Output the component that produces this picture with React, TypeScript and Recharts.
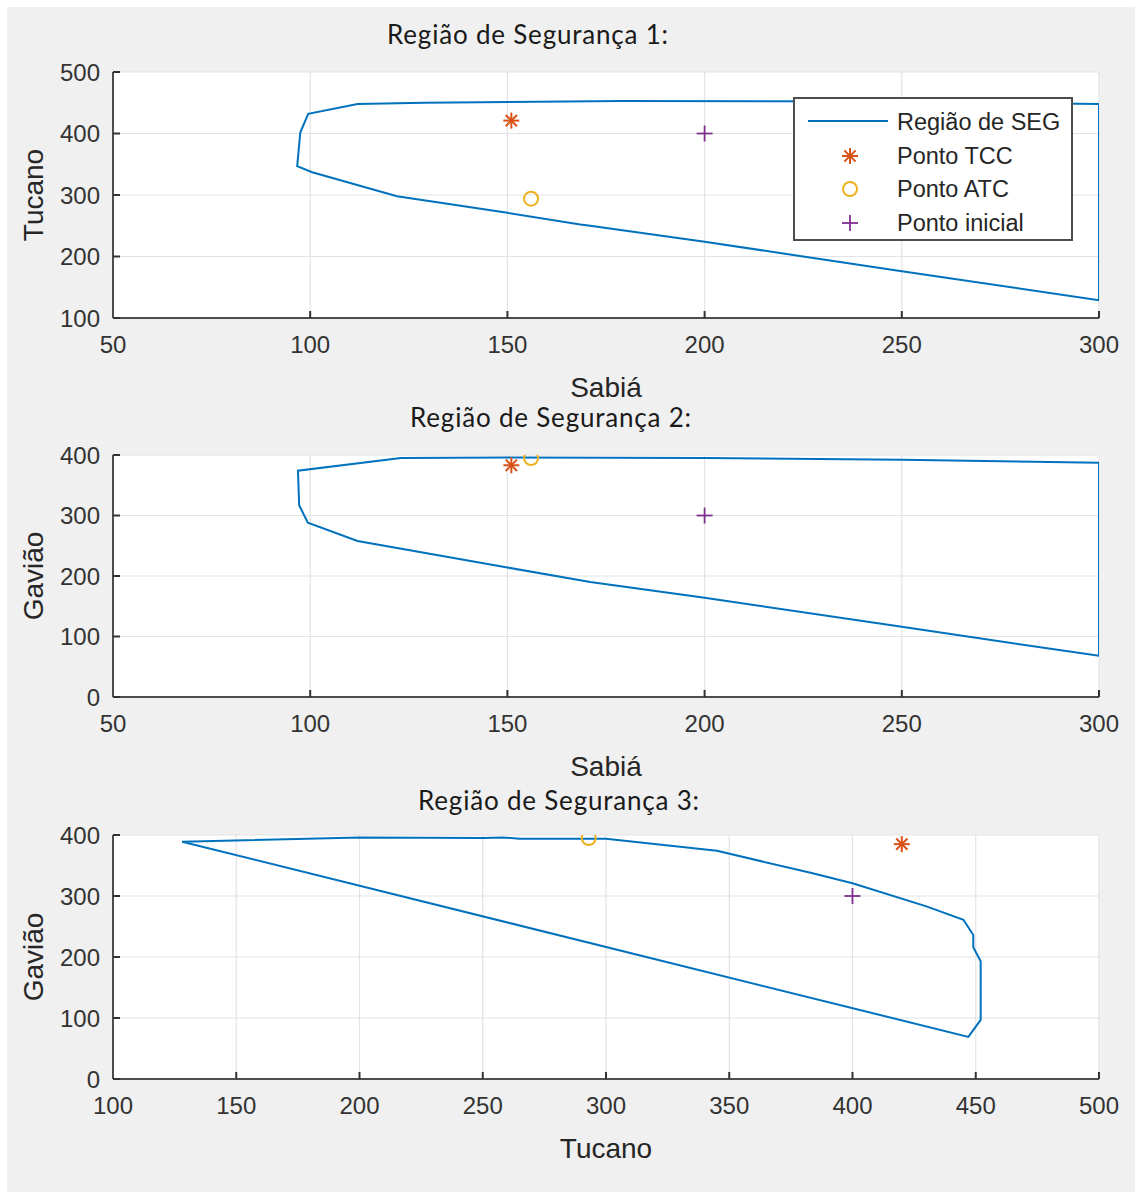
import React from 'react';
import { ScatterChart, Scatter, XAxis, YAxis, CartesianGrid, Legend } from 'recharts';

// eixos
const sabiaTicks = [50, 100, 150, 200, 250, 300];
const tucanoXTicks = [100, 150, 200, 250, 300, 350, 400, 450, 500];
const tucanoYTicks = [100, 200, 300, 400, 500];
const gaviaoTicks = [0, 100, 200, 300, 400];

// Região de Segurança 1 (Sabiá x Tucano)
const regiao1 = [
  { x: 300, y: 448 }, { x: 250, y: 452 }, { x: 179, y: 453 }, { x: 129, y: 450 },
  { x: 112, y: 448 }, { x: 99.5, y: 432 }, { x: 97.5, y: 402 }, { x: 96.7, y: 347 },
  { x: 100.5, y: 337 }, { x: 122, y: 298 }, { x: 150, y: 271 }, { x: 168.5, y: 252 },
  { x: 171, y: 250 }, { x: 200, y: 224 }, { x: 250, y: 176 }, { x: 300, y: 129 },
  { x: 300, y: 448 },
];
const tcc1 = [{ x: 151, y: 421 }];
const atc1 = [{ x: 156, y: 294 }];
const ini1 = [{ x: 200, y: 400 }];

// Região de Segurança 2 (Sabiá x Gavião)
const regiao2 = [
  { x: 300, y: 387 }, { x: 250, y: 392 }, { x: 200, y: 395 }, { x: 150, y: 396 },
  { x: 123, y: 395 }, { x: 96.9, y: 374 }, { x: 97.2, y: 317 }, { x: 99.4, y: 288 },
  { x: 112, y: 258 }, { x: 150, y: 214 }, { x: 171, y: 190 }, { x: 200, y: 164 },
  { x: 250, y: 116 }, { x: 300, y: 68 }, { x: 300, y: 387 },
];
const tcc2 = [{ x: 151, y: 383 }];
const atc2 = [{ x: 156, y: 395 }];
const ini2 = [{ x: 200, y: 300 }];

// Região de Segurança 3 (Tucano x Gavião)
const regiao3 = [
  { x: 128, y: 389 }, { x: 200, y: 396 }, { x: 250, y: 395 }, { x: 258, y: 396 },
  { x: 265, y: 394 }, { x: 300, y: 394 }, { x: 345, y: 374 }, { x: 383, y: 338 },
  { x: 400, y: 321 }, { x: 430, y: 283 }, { x: 445, y: 261 }, { x: 449, y: 236 },
  { x: 449, y: 216 }, { x: 452, y: 193 }, { x: 452, y: 97 }, { x: 447, y: 69 },
  { x: 128, y: 389 },
];
const tcc3 = [{ x: 420, y: 385 }];
const atc3 = [{ x: 293, y: 395 }];
const ini3 = [{ x: 400, y: 300 }];

const BLUE = '#0072BD';
const RED = '#D95319';
const YELLOW = '#EDB120';
const PURPLE = '#7E2F8E';
const AXIS = '#4d4d4d';
const TEXT = '#333333';
const SANS = '"Liberation Sans", Arial, Helvetica, sans-serif';

const Nothing = () => <g />;

const Star = ({ cx, cy }: any) => {
  const r = 8;
  const d = r * 0.707;
  return (
    <g stroke={RED} strokeWidth={2}>
      <line x1={cx - r} y1={cy} x2={cx + r} y2={cy} />
      <line x1={cx} y1={cy - r} x2={cx} y2={cy + r} />
      <line x1={cx - d} y1={cy - d} x2={cx + d} y2={cy + d} />
      <line x1={cx - d} y1={cy + d} x2={cx + d} y2={cy - d} />
    </g>
  );
};

const Ring = ({ cx, cy }: any) => (
  <circle cx={cx} cy={cy} r={7} fill="none" stroke={YELLOW} strokeWidth={2} />
);

const Plus = ({ cx, cy }: any) => (
  <g stroke={PURPLE} strokeWidth={1.8}>
    <line x1={cx - 8} y1={cy} x2={cx + 8} y2={cy} />
    <line x1={cx} y1={cy - 8} x2={cx} y2={cy + 8} />
  </g>
);

const legendItems = [
  { name: 'Região de SEG', kind: 'line' },
  { name: 'Ponto TCC', kind: 'star' },
  { name: 'Ponto ATC', kind: 'ring' },
  { name: 'Ponto inicial', kind: 'plus' },
];

const LegendBox = () => (
  <div
    style={{
      position: 'relative',
      width: 280,
      height: 144,
      boxSizing: 'border-box',
      border: `2px solid ${AXIS}`,
      background: '#fff',
      fontFamily: SANS,
      fontSize: 23.5,
      color: '#262626',
    }}
  >
    {legendItems.map((it, i) => (
      <div key={it.name} style={{ position: 'absolute', left: 0, top: 6 + i * 33.5, height: 34, width: 276 }}>
        <svg width={100} height={34} style={{ position: 'absolute', left: 0, top: 0 }}>
          {it.kind === 'line' && <line x1={13} y1={16} x2={93} y2={16} stroke={BLUE} strokeWidth={2} />}
          {it.kind === 'star' && <Star cx={55} cy={17} />}
          {it.kind === 'ring' && <Ring cx={55} cy={17} />}
          {it.kind === 'plus' && <Plus cx={55} cy={17} />}
        </svg>
        <span style={{ position: 'absolute', left: 102, top: 3, lineHeight: '28px', whiteSpace: 'nowrap' }}>{it.name}</span>
      </div>
    ))}
  </div>
);

const XTitle = ({ viewBox, value }: any) => (
  <text
    x={viewBox.x + viewBox.width / 2}
    y={viewBox.y + 79}
    textAnchor="middle"
    fontFamily={SANS}
    fontSize={28}
    fill="#262626"
  >
    {value}
  </text>
);

const YTitle = ({ viewBox, value }: any) => {
  const cx = 43;
  const cy = viewBox.y + viewBox.height / 2;
  return (
    <text
      x={cx}
      y={cy}
      transform={`rotate(-90, ${cx}, ${cy})`}
      textAnchor="middle"
      fontFamily={SANS}
      fontSize={28}
      fill="#262626"
    >
      {value}
    </text>
  );
};

interface PanelProps {
  top: number;
  height: number;
  marginTop: number;
  marginBottom: number;
  xLabel: string;
  yLabel: string;
  xTicks: number[];
  yTicks: number[];
  region: { x: number; y: number }[];
  tcc: { x: number; y: number }[];
  atc: { x: number; y: number }[];
  ini: { x: number; y: number }[];
  showLegend?: boolean;
}

const Panel = (p: PanelProps) => {
  const xDomain = [p.xTicks[0], p.xTicks[p.xTicks.length - 1]];
  const yDomain = [p.yTicks[0], p.yTicks[p.yTicks.length - 1]];
  const tickStyle = { fill: TEXT, fontSize: 24, fontFamily: SANS };
  return (
    <div style={{ position: 'absolute', left: 0, top: p.top }}>
      <ScatterChart
        width={1135}
        height={p.height}
        margin={{ top: p.marginTop, right: 36, bottom: p.marginBottom, left: 53 }}
      >
        <CartesianGrid stroke="#e3e3e3" strokeWidth={1.2} fill="#ffffff" />
        <XAxis
          type="number"
          dataKey="x"
          domain={xDomain}
          ticks={p.xTicks}
          interval={0}
          height={40}
          allowDataOverflow
          axisLine={{ stroke: AXIS, strokeWidth: 2 }}
          tickLine={{ stroke: '#333', strokeWidth: 2 }}
          tickSize={-7}
          tickMargin={25}
          tick={tickStyle}
          label={<XTitle value={p.xLabel} />}
        />
        <XAxis
          xAxisId="top"
          orientation="top"
          type="number"
          dataKey="x"
          domain={xDomain}
          ticks={p.xTicks}
          interval={0}
          height={0}
          allowDataOverflow
          axisLine={{ stroke: AXIS, strokeWidth: 2 }}
          tickLine={{ stroke: '#333', strokeWidth: 2 }}
          tickSize={-7}
          tick={false}
        />
        <YAxis
          type="number"
          dataKey="y"
          domain={yDomain}
          ticks={p.yTicks}
          interval={0}
          width={60}
          allowDataOverflow
          axisLine={{ stroke: AXIS, strokeWidth: 2 }}
          tickLine={{ stroke: '#333', strokeWidth: 2 }}
          tickSize={-7}
          tickMargin={20}
          tick={tickStyle}
          label={<YTitle value={p.yLabel} />}
        />
        <YAxis
          yAxisId="right"
          orientation="right"
          type="number"
          dataKey="y"
          domain={yDomain}
          ticks={p.yTicks}
          interval={0}
          width={0}
          allowDataOverflow
          axisLine={{ stroke: AXIS, strokeWidth: 2 }}
          tickLine={{ stroke: '#333', strokeWidth: 2 }}
          tickSize={-7}
          tick={false}
        />
        <Scatter
          name="Região de SEG"
          data={p.region}
          line={{ stroke: BLUE, strokeWidth: 2 }}
          lineJointType="linear"
          shape={<Nothing />}
          isAnimationActive={false}
        />
        <Scatter name="Ponto TCC" data={p.tcc} shape={<Star />} isAnimationActive={false} />
        <Scatter name="Ponto ATC" data={p.atc} shape={<Ring />} isAnimationActive={false} />
        <Scatter name="Ponto inicial" data={p.ini} shape={<Plus />} isAnimationActive={false} />
        {p.showLegend && (
          <Legend
            layout="horizontal"
            verticalAlign="middle"
            align="center"
            content={<LegendBox />}
            wrapperStyle={{ left: 793, top: 97, width: 280, height: 144 }}
          />
        )}
      </ScatterChart>
    </div>
  );
};

const titles = [
  { text: 'Região de Segurança 1:', cx: 528, top: 19 },
  { text: 'Região de Segurança 2:', cx: 551, top: 402 },
  { text: 'Região de Segurança 3:', cx: 559, top: 785 },
];

export default function App() {
  return (
    <div style={{ position: 'absolute', left: 0, top: 0, width: 1135, height: 1192, background: '#ffffff' }}>
      <div style={{ position: 'absolute', left: 7, top: 7, right: 0, bottom: 0, background: '#f0f0f0' }} />
      <Panel
        top={0}
        height={410}
        marginTop={72}
        marginBottom={52}
        xLabel="Sabiá"
        yLabel="Tucano"
        xTicks={sabiaTicks}
        yTicks={tucanoYTicks}
        region={regiao1}
        tcc={tcc1}
        atc={atc1}
        ini={ini1}
        showLegend
      />
      <Panel
        top={410}
        height={380}
        marginTop={45}
        marginBottom={53}
        xLabel="Sabiá"
        yLabel="Gavião"
        xTicks={sabiaTicks}
        yTicks={gaviaoTicks}
        region={regiao2}
        tcc={tcc2}
        atc={atc2}
        ini={ini2}
      />
      <Panel
        top={790}
        height={402}
        marginTop={45}
        marginBottom={73}
        xLabel="Tucano"
        yLabel="Gavião"
        xTicks={tucanoXTicks}
        yTicks={gaviaoTicks}
        region={regiao3}
        tcc={tcc3}
        atc={atc3}
        ini={ini3}
      />
      {titles.map((t) => (
        <div
          key={t.text}
          style={{
            position: 'absolute',
            left: t.cx - 200,
            top: t.top,
            width: 400,
            textAlign: 'center',
            fontFamily: 'Lato, "Open Sans", sans-serif',
            fontSize: 26,
            letterSpacing: 0.8,
            lineHeight: '30px',
            color: '#1a1a1a',
            whiteSpace: 'nowrap',
          }}
        >
          {t.text}
        </div>
      ))}
    </div>
  );
}
